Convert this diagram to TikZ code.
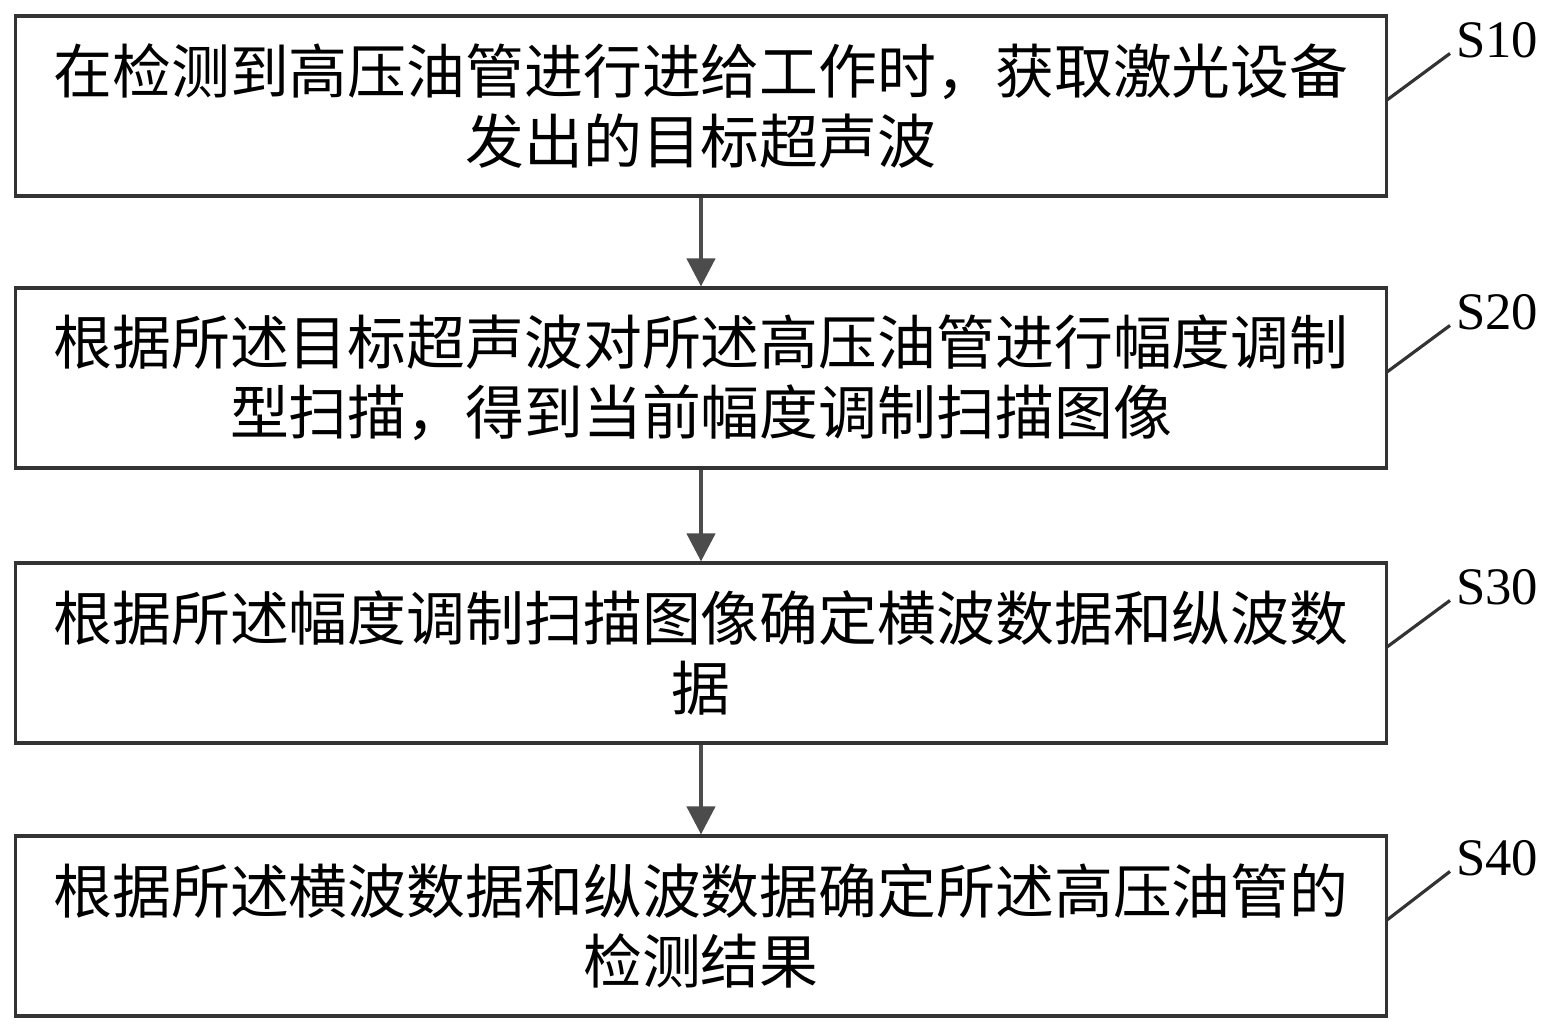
\documentclass[tikz,border=0pt]{standalone}
\usepackage{fontspec}
\setmainfont{Liberation Serif}
\newfontfamily\cjk{Noto Sans CJK SC}
\usetikzlibrary{positioning,arrows.meta}
\begin{document}
\begin{tikzpicture}[x=0.02cm,y=-0.02cm,
  box/.style={draw=black!80,line width=1.8pt,minimum width=27.44cm,minimum height=3.6cm,inner sep=0pt,align=center,font=\cjk\fontsize{33.5}{40}\selectfont},
  lab/.style={font=\fontsize{30}{32}\selectfont,anchor=west},
  arr/.style={-{Triangle[length=16pt,width=16pt]},line width=2.5pt,draw=black!70}]
  \useasboundingbox (0,0) rectangle (1559,1033);
  \node[box] (s1) at (701,106) {在检测到高压油管进行进给工作时，获取激光设备\\发出的目标超声波};
  \node[box] (s2) at (701,378) {根据所述目标超声波对所述高压油管进行幅度调制\\型扫描，得到当前幅度调制扫描图像};
  \node[box] (s3) at (701,653) {根据所述幅度调制扫描图像确定横波数据和纵波数\\据};
  \node[box] (s4) at (701,926) {根据所述横波数据和纵波数据确定所述高压油管的\\检测结果};
  \draw[arr] (s1) -- (s2);
  \draw[arr] (s2) -- (s3);
  \draw[arr] (s3) -- (s4);
  \node[lab] (l1) at (1450,40) {S10};
  \node[lab] (l2) at (1450,312) {S20};
  \node[lab] (l3) at (1450,587) {S30};
  \node[lab] (l4) at (1450,858) {S40};
  \coordinate (c1) at (1387,100);
  \coordinate (c2) at (1387,372);
  \coordinate (c3) at (1387,647);
  \coordinate (c4) at (1387,920);
  \draw[line width=1.8pt,black!80] (c1) -- ([yshift=6pt]l1.south west);
  \draw[line width=1.8pt,black!80] (c2) -- ([yshift=6pt]l2.south west);
  \draw[line width=1.8pt,black!80] (c3) -- ([yshift=6pt]l3.south west);
  \draw[line width=1.8pt,black!80] (c4) -- ([yshift=6pt]l4.south west);
\end{tikzpicture}
\end{document}
